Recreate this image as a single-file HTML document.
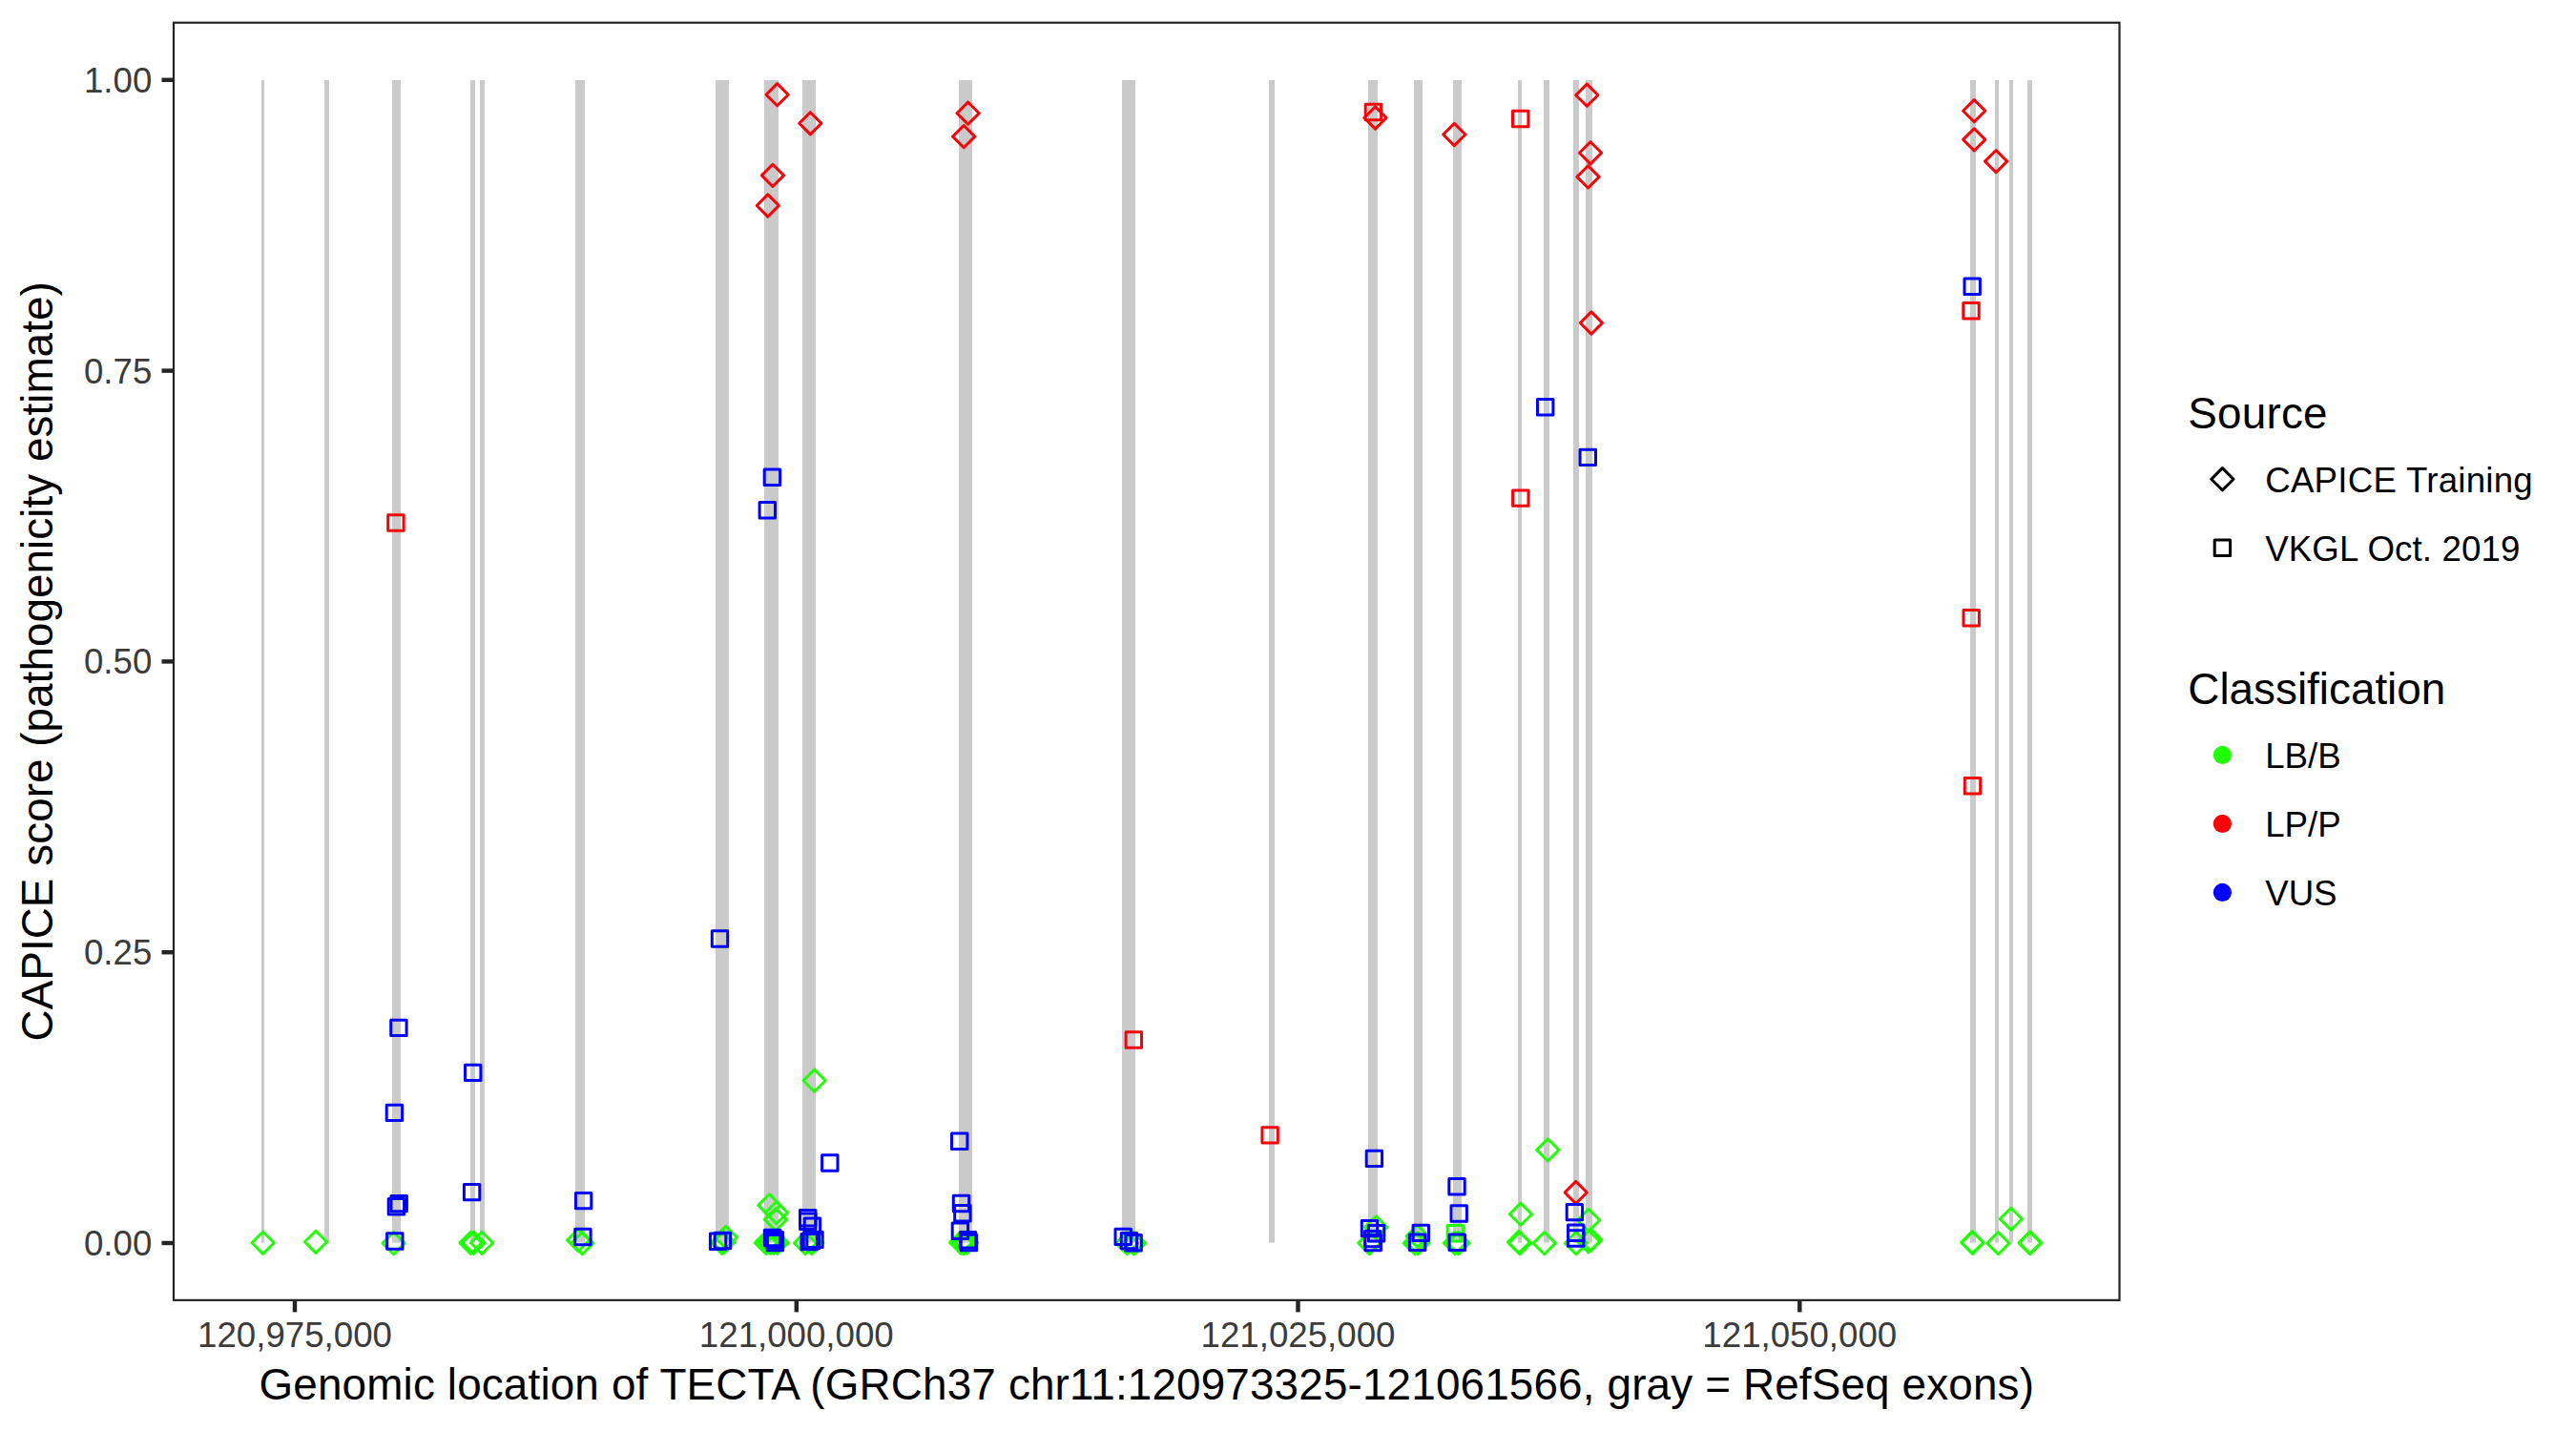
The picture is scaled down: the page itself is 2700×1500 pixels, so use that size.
<!DOCTYPE html>
<html><head><meta charset="utf-8"><title>TECTA CAPICE</title>
<style>
html,body{margin:0;padding:0;background:#fff}
svg{display:block}
text{font-family:"Liberation Sans",sans-serif}
.tk{font-size:36.67px;fill:#3B3B3B}
.ti{font-size:45.83px;fill:#000}
.lg{font-size:36.67px;fill:#000}
</style></head><body>
<svg width="2700" height="1500" viewBox="0 0 2700 1500">
<rect width="2700" height="1500" fill="#fff"/>

<g fill="#CACACA">
<rect x="274" y="84" width="3" height="1218.6"/>
<rect x="340" y="84" width="5" height="1218.6"/>
<rect x="411" y="84" width="9" height="1218.6"/>
<rect x="493" y="84" width="5" height="1218.6"/>
<rect x="503" y="84" width="5" height="1218.6"/>
<rect x="603" y="84" width="10" height="1218.6"/>
<rect x="750" y="84" width="14" height="1218.6"/>
<rect x="801" y="84" width="15" height="1218.6"/>
<rect x="841" y="84" width="14" height="1218.6"/>
<rect x="1005" y="84" width="14" height="1218.6"/>
<rect x="1176" y="84" width="14" height="1218.6"/>
<rect x="1330" y="84" width="6" height="1218.6"/>
<rect x="1434" y="84" width="10" height="1218.6"/>
<rect x="1482" y="84" width="9" height="1218.6"/>
<rect x="1523" y="84" width="9" height="1218.6"/>
<rect x="1591" y="84" width="4" height="1218.6"/>
<rect x="1618" y="84" width="6" height="1218.6"/>
<rect x="1649" y="84" width="6" height="1218.6"/>
<rect x="1662" y="84" width="7" height="1218.6"/>
<rect x="2065" y="84" width="6" height="1218.6"/>
<rect x="2091" y="84" width="4" height="1218.6"/>
<rect x="2106" y="84" width="4" height="1218.6"/>
<rect x="2125" y="84" width="5" height="1218.6"/>
</g>
<g fill="none" stroke-width="3.0" stroke-linejoin="round">
<path stroke="#21FF06" d="M264.0 1302.8L275.6 1291.2L287.2 1302.8L275.6 1314.4Z"/>
<path stroke="#21FF06" d="M319.4 1301.8L331.0 1290.2L342.6 1301.8L331.0 1313.4Z"/>
<path stroke="#21FF06" d="M401.0 1303.1L412.6 1291.5L424.2 1303.1L412.6 1314.7Z"/>
<path stroke="#21FF06" d="M481.8 1302.8L493.4 1291.2L505.0 1302.8L493.4 1314.4Z"/>
<path stroke="#21FF06" d="M484.8 1302.8L496.4 1291.2L508.0 1302.8L496.4 1314.4Z"/>
<path stroke="#21FF06" d="M493.5 1302.8L505.1 1291.2L516.7 1302.8L505.1 1314.4Z"/>
<path stroke="#21FF06" d="M594.5 1300.0L606.1 1288.4L617.7 1300.0L606.1 1311.6Z"/>
<path stroke="#21FF06" d="M598.7 1303.1L610.3 1291.5L621.9 1303.1L610.3 1314.7Z"/>
<path stroke="#21FF06" d="M749.2 1297.0L760.8 1285.4L772.4 1297.0L760.8 1308.6Z"/>
<path stroke="#21FF06" d="M745.1 1302.8L756.7 1291.2L768.3 1302.8L756.7 1314.4Z"/>
<path stroke="#21FF06" d="M747.0 1302.3L758.6 1290.7L770.2 1302.3L758.6 1313.9Z"/>
<path stroke="#21FF06" d="M794.8 1263.4L806.4 1251.8L818.0 1263.4L806.4 1275.0Z"/>
<path stroke="#21FF06" d="M802.2 1271.1L813.8 1259.5L825.4 1271.1L813.8 1282.7Z"/>
<path stroke="#21FF06" d="M801.4 1278.4L813.0 1266.8L824.6 1278.4L813.0 1290.0Z"/>
<path stroke="#21FF06" d="M791.2 1302.7L802.8 1291.1L814.4 1302.7L802.8 1314.3Z"/>
<path stroke="#21FF06" d="M792.0 1302.7L803.6 1291.1L815.2 1302.7L803.6 1314.3Z"/>
<path stroke="#21FF06" d="M795.8 1302.7L807.4 1291.1L819.0 1302.7L807.4 1314.3Z"/>
<path stroke="#21FF06" d="M799.5 1302.7L811.1 1291.1L822.7 1302.7L811.1 1314.3Z"/>
<path stroke="#21FF06" d="M803.1 1302.7L814.7 1291.1L826.3 1302.7L814.7 1314.3Z"/>
<path stroke="#21FF06" d="M832.4 1303.0L844.0 1291.4L855.6 1303.0L844.0 1314.6Z"/>
<path stroke="#21FF06" d="M838.8 1302.9L850.4 1291.3L862.0 1302.9L850.4 1314.5Z"/>
<path stroke="#21FF06" d="M839.7 1302.6L851.3 1291.0L862.9 1302.6L851.3 1314.2Z"/>
<path stroke="#21FF06" d="M842.0 1132.7L853.6 1121.1L865.2 1132.7L853.6 1144.3Z"/>
<path stroke="#21FF06" d="M995.5 1302.5L1007.1 1290.9L1018.7 1302.5L1007.1 1314.1Z"/>
<path stroke="#21FF06" d="M997.4 1302.7L1009.0 1291.1L1020.6 1302.7L1009.0 1314.3Z"/>
<path stroke="#21FF06" d="M999.4 1302.9L1011.0 1291.3L1022.6 1302.9L1011.0 1314.5Z"/>
<path stroke="#21FF06" d="M1001.7 1302.5L1013.3 1290.9L1024.9 1302.5L1013.3 1314.1Z"/>
<path stroke="#21FF06" d="M1169.6 1303.1L1181.2 1291.5L1192.8 1303.1L1181.2 1314.7Z"/>
<path stroke="#21FF06" d="M1176.5 1303.1L1188.1 1291.5L1199.7 1303.1L1188.1 1314.7Z"/>
<path stroke="#21FF06" d="M1177.5 1303.0L1189.1 1291.4L1200.7 1303.0L1189.1 1314.6Z"/>
<path stroke="#21FF06" d="M1430.6 1286.4L1442.2 1274.8L1453.8 1286.4L1442.2 1298.0Z"/>
<path stroke="#21FF06" d="M1423.7 1303.0L1435.3 1291.4L1446.9 1303.0L1435.3 1314.6Z"/>
<path stroke="#21FF06" d="M1474.0 1295.8L1485.6 1284.2L1497.2 1295.8L1485.6 1307.4Z"/>
<path stroke="#21FF06" d="M1471.3 1303.1L1482.9 1291.5L1494.5 1303.1L1482.9 1314.7Z"/>
<path stroke="#21FF06" d="M1474.6 1303.1L1486.2 1291.5L1497.8 1303.1L1486.2 1314.7Z"/>
<path stroke="#21FF06" d="M1513.3 1303.0L1524.9 1291.4L1536.5 1303.0L1524.9 1314.6Z"/>
<path stroke="#21FF06" d="M1517.0 1303.0L1528.6 1291.4L1540.2 1303.0L1528.6 1314.6Z"/>
<path stroke="#21FF06" d="M1610.7 1205.4L1622.3 1193.8L1633.9 1205.4L1622.3 1217.0Z"/>
<path stroke="#21FF06" d="M1582.3 1272.7L1593.9 1261.1L1605.5 1272.7L1593.9 1284.3Z"/>
<path stroke="#21FF06" d="M1580.3 1302.0L1591.9 1290.4L1603.5 1302.0L1591.9 1313.6Z"/>
<path stroke="#21FF06" d="M1581.4 1303.1L1593.0 1291.5L1604.6 1303.1L1593.0 1314.7Z"/>
<path stroke="#21FF06" d="M1607.1 1303.1L1618.7 1291.5L1630.3 1303.1L1618.7 1314.7Z"/>
<path stroke="#FB0007" d="M1640.1 1250.0L1651.7 1238.4L1663.3 1250.0L1651.7 1261.6Z"/>
<path stroke="#21FF06" d="M1653.5 1279.0L1665.1 1267.4L1676.7 1279.0L1665.1 1290.6Z"/>
<path stroke="#21FF06" d="M1655.7 1299.7L1667.3 1288.1L1678.9 1299.7L1667.3 1311.3Z"/>
<path stroke="#21FF06" d="M1653.5 1301.4L1665.1 1289.8L1676.7 1301.4L1665.1 1313.0Z"/>
<path stroke="#21FF06" d="M1640.3 1303.1L1651.9 1291.5L1663.5 1303.1L1651.9 1314.7Z"/>
<path stroke="#21FF06" d="M2055.7 1302.2L2067.3 1290.6L2078.9 1302.2L2067.3 1313.8Z"/>
<path stroke="#21FF06" d="M2056.0 1302.8L2067.6 1291.2L2079.2 1302.8L2067.6 1314.4Z"/>
<path stroke="#21FF06" d="M2082.8 1303.1L2094.4 1291.5L2106.0 1303.1L2094.4 1314.7Z"/>
<path stroke="#21FF06" d="M2096.2 1277.8L2107.8 1266.2L2119.4 1277.8L2107.8 1289.4Z"/>
<path stroke="#21FF06" d="M2116.1 1303.1L2127.7 1291.5L2139.3 1303.1L2127.7 1314.7Z"/>
<path stroke="#21FF06" d="M2116.3 1302.5L2127.9 1290.9L2139.5 1302.5L2127.9 1314.1Z"/>
<path stroke="#FB0007" d="M803.0 99.2L814.6 87.6L826.2 99.2L814.6 110.8Z"/>
<path stroke="#FB0007" d="M837.7 129.3L849.3 117.7L860.9 129.3L849.3 140.9Z"/>
<path stroke="#FB0007" d="M798.3 183.9L809.9 172.3L821.5 183.9L809.9 195.5Z"/>
<path stroke="#FB0007" d="M793.2 215.5L804.8 203.9L816.4 215.5L804.8 227.1Z"/>
<path stroke="#FB0007" d="M1003.0 118.7L1014.6 107.1L1026.2 118.7L1014.6 130.3Z"/>
<path stroke="#FB0007" d="M998.6 143.1L1010.2 131.5L1021.8 143.1L1010.2 154.7Z"/>
<path stroke="#FB0007" d="M1429.9 123.5L1441.5 111.9L1453.1 123.5L1441.5 135.1Z"/>
<path stroke="#FB0007" d="M1512.7 141.0L1524.3 129.4L1535.9 141.0L1524.3 152.6Z"/>
<path stroke="#FB0007" d="M1651.7 99.7L1663.3 88.1L1674.9 99.7L1663.3 111.3Z"/>
<path stroke="#FB0007" d="M1655.4 160.3L1667.0 148.7L1678.6 160.3L1667.0 171.9Z"/>
<path stroke="#FB0007" d="M1652.9 185.4L1664.5 173.8L1676.1 185.4L1664.5 197.0Z"/>
<path stroke="#FB0007" d="M1656.3 338.5L1667.9 326.9L1679.5 338.5L1667.9 350.1Z"/>
<path stroke="#FB0007" d="M2057.6 116.2L2069.2 104.6L2080.8 116.2L2069.2 127.8Z"/>
<path stroke="#FB0007" d="M2057.6 146.4L2069.2 134.8L2080.8 146.4L2069.2 158.0Z"/>
<path stroke="#FB0007" d="M2080.5 169.1L2092.1 157.5L2103.7 169.1L2092.1 180.7Z"/>
<rect stroke="#0000FF" x="405.6" y="1292.8" width="16.40" height="16.40"/>
<rect stroke="#0000FF" x="405.2" y="1158.2" width="16.40" height="16.40"/>
<rect stroke="#0000FF" x="407.2" y="1256.5" width="16.40" height="16.40"/>
<rect stroke="#0000FF" x="410.0" y="1253.4" width="16.40" height="16.40"/>
<rect stroke="#0000FF" x="486.4" y="1241.4" width="16.40" height="16.40"/>
<rect stroke="#0000FF" x="409.7" y="1069.2" width="16.40" height="16.40"/>
<rect stroke="#0000FF" x="487.5" y="1116.2" width="16.40" height="16.40"/>
<rect stroke="#FB0007" x="406.7" y="539.8" width="16.40" height="16.40"/>
<rect stroke="#0000FF" x="603.4" y="1250.4" width="16.40" height="16.40"/>
<rect stroke="#0000FF" x="602.7" y="1288.3" width="16.40" height="16.40"/>
<rect stroke="#0000FF" x="744.4" y="1293.1" width="16.40" height="16.40"/>
<rect stroke="#0000FF" x="749.2" y="1292.3" width="16.40" height="16.40"/>
<rect stroke="#0000FF" x="746.3" y="975.8" width="16.40" height="16.40"/>
<rect stroke="#0000FF" x="801.2" y="492.0" width="16.40" height="16.40"/>
<rect stroke="#0000FF" x="796.1" y="526.6" width="16.40" height="16.40"/>
<rect stroke="#0000FF" x="801.4" y="1289.3" width="16.40" height="16.40"/>
<rect stroke="#0000FF" x="804.2" y="1291.5" width="16.40" height="16.40"/>
<rect stroke="#0000FF" x="804.2" y="1294.4" width="16.40" height="16.40"/>
<rect stroke="#0000FF" x="838.5" y="1268.6" width="16.40" height="16.40"/>
<rect stroke="#0000FF" x="838.6" y="1272.1" width="16.40" height="16.40"/>
<rect stroke="#0000FF" x="843.2" y="1277.1" width="16.40" height="16.40"/>
<rect stroke="#0000FF" x="840.0" y="1293.4" width="16.40" height="16.40"/>
<rect stroke="#0000FF" x="845.8" y="1291.2" width="16.40" height="16.40"/>
<rect stroke="#0000FF" x="842.3" y="1292.3" width="16.40" height="16.40"/>
<rect stroke="#0000FF" x="861.6" y="1210.8" width="16.40" height="16.40"/>
<rect stroke="#0000FF" x="997.5" y="1188.1" width="16.40" height="16.40"/>
<rect stroke="#0000FF" x="999.3" y="1253.3" width="16.40" height="16.40"/>
<rect stroke="#0000FF" x="1000.7" y="1263.6" width="16.40" height="16.40"/>
<rect stroke="#0000FF" x="998.2" y="1282.0" width="16.40" height="16.40"/>
<rect stroke="#0000FF" x="1006.3" y="1291.5" width="16.40" height="16.40"/>
<rect stroke="#0000FF" x="1007.2" y="1294.3" width="16.40" height="16.40"/>
<rect stroke="#0000FF" x="1169.0" y="1288.2" width="16.40" height="16.40"/>
<rect stroke="#0000FF" x="1175.2" y="1292.4" width="16.40" height="16.40"/>
<rect stroke="#0000FF" x="1179.9" y="1294.6" width="16.40" height="16.40"/>
<rect stroke="#FB0007" x="1180.1" y="1081.8" width="16.40" height="16.40"/>
<rect stroke="#FB0007" x="1322.9" y="1181.7" width="16.40" height="16.40"/>
<rect stroke="#0000FF" x="1432.2" y="1206.2" width="16.40" height="16.40"/>
<rect stroke="#0000FF" x="1427.3" y="1279.4" width="16.40" height="16.40"/>
<rect stroke="#0000FF" x="1434.4" y="1284.5" width="16.40" height="16.40"/>
<rect stroke="#0000FF" x="1430.5" y="1290.4" width="16.40" height="16.40"/>
<rect stroke="#0000FF" x="1431.0" y="1294.3" width="16.40" height="16.40"/>
<rect stroke="#FB0007" x="1431.2" y="109.3" width="16.40" height="16.40"/>
<rect stroke="#0000FF" x="1481.1" y="1284.2" width="16.40" height="16.40"/>
<rect stroke="#0000FF" x="1477.4" y="1294.1" width="16.40" height="16.40"/>
<rect stroke="#0000FF" x="1518.8" y="1235.6" width="16.40" height="16.40"/>
<rect stroke="#0000FF" x="1521.0" y="1263.8" width="16.40" height="16.40"/>
<rect stroke="#21FF06" x="1517.1" y="1284.6" width="16.40" height="16.40"/>
<rect stroke="#0000FF" x="1519.1" y="1294.1" width="16.40" height="16.40"/>
<rect stroke="#FB0007" x="1585.5" y="116.3" width="16.40" height="16.40"/>
<rect stroke="#FB0007" x="1585.6" y="513.9" width="16.40" height="16.40"/>
<rect stroke="#0000FF" x="1611.5" y="418.5" width="16.40" height="16.40"/>
<rect stroke="#0000FF" x="1656.1" y="471.2" width="16.40" height="16.40"/>
<rect stroke="#0000FF" x="1642.2" y="1262.4" width="16.40" height="16.40"/>
<rect stroke="#0000FF" x="1643.5" y="1284.0" width="16.40" height="16.40"/>
<rect stroke="#0000FF" x="1643.5" y="1289.8" width="16.40" height="16.40"/>
<rect stroke="#0000FF" x="2059.0" y="292.0" width="16.40" height="16.40"/>
<rect stroke="#FB0007" x="2057.8" y="317.6" width="16.40" height="16.40"/>
<rect stroke="#FB0007" x="2058.0" y="639.6" width="16.40" height="16.40"/>
<rect stroke="#FB0007" x="2059.3" y="815.5" width="16.40" height="16.40"/>
</g>
<rect x="182" y="23.75" width="2039.5" height="1339.1" fill="none" stroke="#242424" stroke-width="2.2"/>
<g stroke="#242424" stroke-width="4.45">
<line x1="169.5" x2="181" y1="1303.0" y2="1303.0"/>
<line x1="169.5" x2="181" y1="998.2" y2="998.2"/>
<line x1="169.5" x2="181" y1="693.4" y2="693.4"/>
<line x1="169.5" x2="181" y1="388.6" y2="388.6"/>
<line x1="169.5" x2="181" y1="83.8" y2="83.8"/>
<line y1="1363.9" y2="1375.4" x1="309.0" x2="309.0"/>
<line y1="1363.9" y2="1375.4" x1="834.8" x2="834.8"/>
<line y1="1363.9" y2="1375.4" x1="1360.5" x2="1360.5"/>
<line y1="1363.9" y2="1375.4" x1="1886.3" x2="1886.3"/>
</g>
<text class="tk" text-anchor="end" x="159.3" y="1316.0">0.00</text>
<text class="tk" text-anchor="end" x="159.3" y="1011.2">0.25</text>
<text class="tk" text-anchor="end" x="159.3" y="706.4">0.50</text>
<text class="tk" text-anchor="end" x="159.3" y="401.6">0.75</text>
<text class="tk" text-anchor="end" x="159.3" y="96.8">1.00</text>
<text class="tk" text-anchor="middle" x="309.0" y="1412.3">120,975,000</text>
<text class="tk" text-anchor="middle" x="834.8" y="1412.3">121,000,000</text>
<text class="tk" text-anchor="middle" x="1360.5" y="1412.3">121,025,000</text>
<text class="tk" text-anchor="middle" x="1886.3" y="1412.3">121,050,000</text>
<text class="ti" x="271.5" y="1467.1" textLength="1860.4" lengthAdjust="spacing">Genomic location of TECTA (GRCh37 chr11:120973325-121061566, gray = RefSeq exons)</text>
<text class="ti" textLength="796.1" lengthAdjust="spacing" transform="translate(55.0,1091.4) rotate(-90)">CAPICE score (pathogenicity estimate)</text>
<text class="ti" x="2293.3" y="449.0" textLength="146.3" lengthAdjust="spacing">Source</text>
<path fill="none" stroke="#000" stroke-width="3.0" stroke-linejoin="round" d="M2317.8 502.2L2329.4 490.6L2341.0 502.2L2329.4 513.8Z"/>
<text class="lg" x="2374.2" y="515.7" textLength="280.5" lengthAdjust="spacing">CAPICE Training</text>
<rect fill="none" stroke="#000" stroke-width="3.0" stroke-linejoin="round" x="2321.2" y="566.0" width="16.40" height="16.40"/>
<text class="lg" x="2374.2" y="587.7" textLength="267.1" lengthAdjust="spacing">VKGL Oct. 2019</text>
<text class="ti" x="2293.3" y="737.8">Classification</text>
<circle cx="2329.4" cy="791.45" r="9.6" fill="#21FF06"/>
<text class="lg" x="2374.2" y="804.8">LB/B</text>
<circle cx="2329.4" cy="863.45" r="9.6" fill="#FB0007"/>
<text class="lg" x="2374.2" y="876.8">LP/P</text>
<circle cx="2329.4" cy="935.45" r="9.6" fill="#0000FF"/>
<text class="lg" x="2374.2" y="948.8">VUS</text>
</svg></body></html>
